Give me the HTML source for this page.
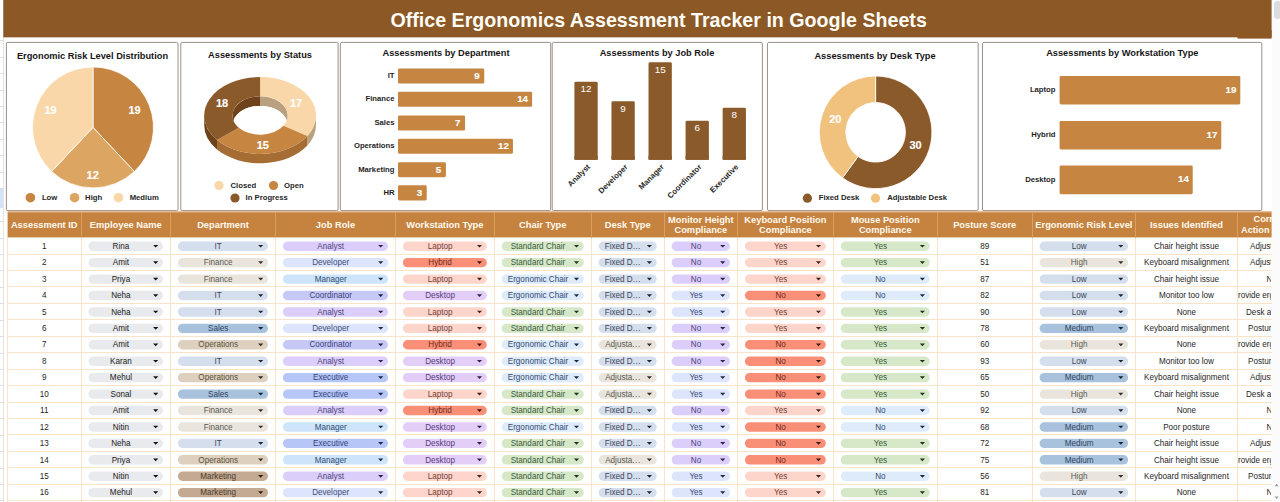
<!DOCTYPE html><html><head><meta charset="utf-8"><title>Office Ergonomics Assessment Tracker</title><style>
*{margin:0;padding:0;box-sizing:border-box}
html,body{width:1280px;height:502px;overflow:hidden;background:#fff}
body{font-family:"Liberation Sans",sans-serif;position:relative;color:#222}
.abs{position:absolute}
.hdr{position:absolute;left:3.3px;top:0;width:1268.3px;height:37.6px;background:#8b5826}
.title{position:absolute;left:390.5px;top:8.5px;font-size:19.65px;font-weight:bold;color:#fffdf6;white-space:nowrap;line-height:23px}
.box{position:absolute;top:42px;height:169px;background:#fff;border:1px solid #9b8b7c;border-radius:2px}
.ct{position:absolute;font-size:9.25px;font-weight:bold;color:#161616;white-space:nowrap;transform:translate(-50%,-50%);line-height:11px}
.lbl{position:absolute;font-size:7.7px;font-weight:bold;color:#1f1f1f;white-space:nowrap;line-height:10px}
.val{position:absolute;font-size:11px;font-weight:bold;color:#fff;-webkit-text-stroke:0.15px #fff;white-space:nowrap;line-height:12px;transform:translate(-50%,-50%)}
.bar{position:absolute;border-radius:1.5px}
.th{position:absolute;top:213px;height:24.5px;background:#c6823f;color:#fffaf0;font-size:9.3px;font-weight:bold;display:flex;align-items:center;justify-content:center;text-align:center;line-height:10.5px;white-space:nowrap;overflow:hidden}
.td{position:absolute;font-size:8.15px;color:#262626;white-space:nowrap;text-align:center;line-height:10px;overflow:hidden}
.pill{position:absolute;height:9.4px;border-radius:5px}
.pt{position:absolute;font-size:8.15px;white-space:nowrap;text-align:center;line-height:10px}
.arr{position:absolute;width:5.2px;height:2.7px;background:#222;clip-path:polygon(0 0,100% 0,50% 100%)}
.hl{position:absolute;height:1px;background:#f9e3c9}
.vl{position:absolute;width:1px;background:#f9e3c9}
</style></head><body>
<div class="abs" style="left:0;top:0;width:4px;height:502px;background:#fff;border-right:1px solid #e4e4e4"></div>
<div class="abs" style="left:0;top:189px;width:3px;height:19px;background:#d3e3fd"></div>
<div class="abs" style="left:0;top:40.34px;width:4px;height:1px;background:#dcdcdc"></div>
<div class="abs" style="left:0;top:56.77px;width:4px;height:1px;background:#dcdcdc"></div>
<div class="abs" style="left:0;top:73.20px;width:4px;height:1px;background:#dcdcdc"></div>
<div class="abs" style="left:0;top:89.63px;width:4px;height:1px;background:#dcdcdc"></div>
<div class="abs" style="left:0;top:106.06px;width:4px;height:1px;background:#dcdcdc"></div>
<div class="abs" style="left:0;top:122.49px;width:4px;height:1px;background:#dcdcdc"></div>
<div class="abs" style="left:0;top:138.92px;width:4px;height:1px;background:#dcdcdc"></div>
<div class="abs" style="left:0;top:155.35px;width:4px;height:1px;background:#dcdcdc"></div>
<div class="abs" style="left:0;top:171.78px;width:4px;height:1px;background:#dcdcdc"></div>
<div class="abs" style="left:0;top:188.21px;width:4px;height:1px;background:#dcdcdc"></div>
<div class="abs" style="left:0;top:204.64px;width:4px;height:1px;background:#dcdcdc"></div>
<div class="abs" style="left:0;top:221.07px;width:4px;height:1px;background:#dcdcdc"></div>
<div class="abs" style="left:0;top:237.50px;width:4px;height:1px;background:#dcdcdc"></div>
<div class="abs" style="left:0;top:253.93px;width:4px;height:1px;background:#dcdcdc"></div>
<div class="abs" style="left:0;top:270.36px;width:4px;height:1px;background:#dcdcdc"></div>
<div class="abs" style="left:0;top:286.79px;width:4px;height:1px;background:#dcdcdc"></div>
<div class="abs" style="left:0;top:303.22px;width:4px;height:1px;background:#dcdcdc"></div>
<div class="abs" style="left:0;top:319.65px;width:4px;height:1px;background:#dcdcdc"></div>
<div class="abs" style="left:0;top:336.08px;width:4px;height:1px;background:#dcdcdc"></div>
<div class="abs" style="left:0;top:352.51px;width:4px;height:1px;background:#dcdcdc"></div>
<div class="abs" style="left:0;top:368.94px;width:4px;height:1px;background:#dcdcdc"></div>
<div class="abs" style="left:0;top:385.37px;width:4px;height:1px;background:#dcdcdc"></div>
<div class="abs" style="left:0;top:401.80px;width:4px;height:1px;background:#dcdcdc"></div>
<div class="abs" style="left:0;top:418.23px;width:4px;height:1px;background:#dcdcdc"></div>
<div class="abs" style="left:0;top:434.66px;width:4px;height:1px;background:#dcdcdc"></div>
<div class="abs" style="left:0;top:451.09px;width:4px;height:1px;background:#dcdcdc"></div>
<div class="abs" style="left:0;top:467.52px;width:4px;height:1px;background:#dcdcdc"></div>
<div class="abs" style="left:0;top:483.95px;width:4px;height:1px;background:#dcdcdc"></div>
<div class="abs" style="left:0;top:500.38px;width:4px;height:1px;background:#dcdcdc"></div>
<svg class="abs" style="left:0;top:0" width="1280" height="40" viewBox="0 0 1280 40"><rect x="3.3" y="0" width="1268.3" height="37.35" fill="#8b5826"/><rect x="1237.5" y="30" width="34.1" height="8.6" fill="#8b5826"/></svg>
<div class="title">Office Ergonomics Assessment Tracker in Google Sheets</div>
<div class="abs" style="left:1272px;top:0;width:8px;height:502px;background:#fbfbfb"></div>
<div class="abs" style="left:1273.5px;top:1px;width:7px;height:18px;border-radius:3.5px;background:#dadce0"></div>
<svg class="abs" style="left:1272px;top:480px" width="8" height="22" viewBox="0 0 8 22"><path d="M2.6,6.2L4.6,3.8L6.6,6.2Z" fill="#9a9a9a"/><path d="M2.6,16.6L4.6,19L6.6,16.6Z" fill="#9a9a9a"/></svg>
<svg class="abs" style="left:0;top:0" width="1280" height="502" viewBox="0 0 1280 502"><rect x="6.4" y="42.4" width="171.60" height="168.2" rx="1.5" fill="#fff" stroke="#8f8379" stroke-width="0.9"/><rect x="180.8" y="42.4" width="157.30" height="168.2" rx="1.5" fill="#fff" stroke="#8f8379" stroke-width="0.9"/><rect x="340.35" y="42.4" width="210.35" height="168.2" rx="1.5" fill="#fff" stroke="#8f8379" stroke-width="0.9"/><rect x="552.2" y="42.4" width="210.20" height="168.2" rx="1.5" fill="#fff" stroke="#8f8379" stroke-width="0.9"/><rect x="767.45" y="42.4" width="210.75" height="168.2" rx="1.5" fill="#fff" stroke="#8f8379" stroke-width="0.9"/><rect x="982.5" y="42.4" width="279.30" height="168.2" rx="1.5" fill="#fff" stroke="#8f8379" stroke-width="0.9"/><path d="M93.00,127.40 L93.00,66.90 A60.5,60.5 0 0 1 134.42,171.50 Z" fill="#c68642" stroke="#fff" stroke-width="0.8"/><path d="M93.00,127.40 L134.42,171.50 A60.5,60.5 0 0 1 51.58,171.50 Z" fill="#dca562" stroke="#fff" stroke-width="0.8"/><path d="M93.00,127.40 L51.58,171.50 A60.5,60.5 0 0 1 93.00,66.90 Z" fill="#fad7a8" stroke="#fff" stroke-width="0.8"/><circle cx="30.4" cy="197.7" r="4.8" fill="#c68642"/><circle cx="74.6" cy="197.7" r="4.8" fill="#dca562"/><circle cx="118.4" cy="197.7" r="4.8" fill="#fad7a8"/><path d="M316.00,115.50 A55.9,38.4 0 0 1 307.30,136.08 L307.30,145.48 A55.9,38.4 0 0 0 316.00,124.90 Z" fill="#b9a180"/><path d="M307.30,136.08 A55.9,38.4 0 0 1 217.03,139.98 L217.03,149.38 A55.9,38.4 0 0 0 307.30,145.48 Z" fill="#a56d33"/><path d="M217.03,139.98 A55.9,38.4 0 0 1 204.20,115.50 L204.20,124.90 A55.9,38.4 0 0 0 217.03,149.38 Z" fill="#6e431b"/><path d="M260.10,96.30 A27.6,19.2 0 0 1 287.70,115.50 L287.70,125.10 A27.6,19.2 0 0 0 260.10,105.90 Z" fill="#b9a180"/><path d="M232.50,115.50 A27.6,19.2 0 0 1 260.10,96.30 L260.10,105.90 A27.6,19.2 0 0 0 232.50,125.10 Z" fill="#6e431b"/><clipPath id="hole"><ellipse cx="260.1" cy="115.5" rx="27.6" ry="19.2"/></clipPath><ellipse cx="260.1" cy="125.10000000000001" rx="27.6" ry="19.2" fill="#fff" clip-path="url(#hole)"/><path d="M260.10,77.10 A55.9,38.4 0 0 1 307.30,136.08 L283.40,125.79 A27.6,19.2 0 0 0 260.10,96.30 Z" fill="#fad7a8"/><path d="M307.30,136.08 A55.9,38.4 0 0 1 217.03,139.98 L238.83,127.74 A27.6,19.2 0 0 0 283.40,125.79 Z" fill="#c68642"/><path d="M217.03,139.98 A55.9,38.4 0 0 1 260.10,77.10 L260.10,96.30 A27.6,19.2 0 0 0 238.83,127.74 Z" fill="#8b5a2b"/><circle cx="219" cy="185.5" r="4.6" fill="#fad7a8"/><circle cx="273.5" cy="185.5" r="4.6" fill="#c68642"/><circle cx="235" cy="198" r="4.6" fill="#8b5a2b"/><path d="M875.60,76.00 A56.3,56.3 0 1 1 842.51,177.85 L858.08,156.41 A29.8,29.8 0 1 0 875.60,102.50 Z" fill="#8b5a2b" stroke="#fff" stroke-width="0.8"/><path d="M842.51,177.85 A56.3,56.3 0 0 1 875.60,76.00 L875.60,102.50 A29.8,29.8 0 0 0 858.08,156.41 Z" fill="#f0c27e" stroke="#fff" stroke-width="0.8"/><circle cx="807.4" cy="198.2" r="4.6" fill="#8b5a2b"/><circle cx="875.5" cy="198.2" r="4.6" fill="#f0c27e"/><rect x="398.00" y="68.45" width="86.22" height="15.10" rx="1.4" fill="#c68642"/><rect x="398.00" y="91.75" width="134.12" height="15.10" rx="1.4" fill="#c68642"/><rect x="398.00" y="115.45" width="67.06" height="15.10" rx="1.4" fill="#c68642"/><rect x="398.00" y="138.65" width="114.96" height="15.10" rx="1.4" fill="#c68642"/><rect x="398.00" y="162.15" width="47.90" height="15.10" rx="1.4" fill="#c68642"/><rect x="398.00" y="185.35" width="28.74" height="15.10" rx="1.4" fill="#c68642"/><rect x="574.40" y="81.80" width="23.30" height="78.00" rx="1.4" fill="#8b5a2b"/><rect x="574.40" y="155.80" width="23.30" height="4.00" rx="0" fill="#8b5a2b"/><rect x="611.46" y="101.30" width="23.30" height="58.50" rx="1.4" fill="#8b5a2b"/><rect x="611.46" y="155.80" width="23.30" height="4.00" rx="0" fill="#8b5a2b"/><rect x="648.52" y="62.30" width="23.30" height="97.50" rx="1.4" fill="#8b5a2b"/><rect x="648.52" y="155.80" width="23.30" height="4.00" rx="0" fill="#8b5a2b"/><rect x="685.58" y="120.80" width="23.30" height="39.00" rx="1.4" fill="#8b5a2b"/><rect x="685.58" y="155.80" width="23.30" height="4.00" rx="0" fill="#8b5a2b"/><rect x="722.64" y="107.80" width="23.30" height="52.00" rx="1.4" fill="#8b5a2b"/><rect x="722.64" y="155.80" width="23.30" height="4.00" rx="0" fill="#8b5a2b"/><rect x="1059.60" y="75.90" width="180.69" height="28.60" rx="1.4" fill="#c68642"/><rect x="1059.60" y="120.90" width="161.67" height="28.60" rx="1.4" fill="#c68642"/><rect x="1059.60" y="165.60" width="133.14" height="28.60" rx="1.4" fill="#c68642"/></svg>
<div class="ct" style="left:92.5px;top:56px">Ergonomic Risk Level Distribution</div>
<div class="ct" style="left:260px;top:55px">Assessments by Status</div>
<div class="ct" style="left:446px;top:53.3px">Assessments by Department</div>
<div class="ct" style="left:657px;top:53px">Assessments by Job Role</div>
<div class="ct" style="left:875px;top:55.7px">Assessments by Desk Type</div>
<div class="ct" style="left:1122.3px;top:53.3px">Assessments by Workstation Type</div>
<div class="val" style="left:134.6px;top:109.6px">19</div>
<div class="val" style="left:92.7px;top:174.7px">12</div>
<div class="val" style="left:50.6px;top:109.6px">19</div>
<div class="lbl" style="left:41.9px;top:192.5px">Low</div>
<div class="lbl" style="left:85.1px;top:192.5px">High</div>
<div class="lbl" style="left:129.7px;top:192.5px">Medium</div>
<div class="val" style="left:296.1px;top:102.8px">17</div>
<div class="val" style="left:262.8px;top:145.4px">15</div>
<div class="val" style="left:222.1px;top:102.9px">18</div>
<div class="lbl" style="left:230.5px;top:180.5px">Closed</div>
<div class="lbl" style="left:284px;top:180.5px">Open</div>
<div class="lbl" style="left:245.6px;top:193px">In Progress</div>
<div class="lbl" style="right:885.5px;top:71.0px">IT</div>
<div class="val" style="font-size:9.8px;left:476.9px;top:76.0px">9</div>
<div class="lbl" style="right:885.5px;top:94.3px">Finance</div>
<div class="val" style="font-size:9.8px;left:522.6px;top:99.3px">14</div>
<div class="lbl" style="right:885.5px;top:118.0px">Sales</div>
<div class="val" style="font-size:9.8px;left:457.8px;top:123.0px">7</div>
<div class="lbl" style="right:885.5px;top:141.2px">Operations</div>
<div class="val" style="font-size:9.8px;left:503.5px;top:146.2px">12</div>
<div class="lbl" style="right:885.5px;top:164.7px">Marketing</div>
<div class="val" style="font-size:9.8px;left:438.6px;top:169.7px">5</div>
<div class="lbl" style="right:885.5px;top:187.9px">HR</div>
<div class="val" style="font-size:9.8px;left:419.4px;top:192.9px">3</div>
<div class="val" style="left:586.0px;top:89.4px;font-weight:normal;font-size:9.9px;-webkit-text-stroke:0">12</div>
<div class="lbl" style="right:690.8px;top:161.1px;transform-origin:100% 50%;transform:rotate(-45deg);font-size:7.8px">Analyst</div>
<div class="val" style="left:623.1px;top:108.9px;font-weight:normal;font-size:9.9px;-webkit-text-stroke:0">9</div>
<div class="lbl" style="right:653.7px;top:161.1px;transform-origin:100% 50%;transform:rotate(-45deg);font-size:7.8px">Developer</div>
<div class="val" style="left:660.2px;top:69.9px;font-weight:normal;font-size:9.9px;-webkit-text-stroke:0">15</div>
<div class="lbl" style="right:616.7px;top:161.1px;transform-origin:100% 50%;transform:rotate(-45deg);font-size:7.8px">Manager</div>
<div class="val" style="left:697.2px;top:128.4px;font-weight:normal;font-size:9.9px;-webkit-text-stroke:0">6</div>
<div class="lbl" style="right:579.6px;top:161.1px;transform-origin:100% 50%;transform:rotate(-45deg);font-size:7.8px">Coordinator</div>
<div class="val" style="left:734.3px;top:115.4px;font-weight:normal;font-size:9.9px;-webkit-text-stroke:0">8</div>
<div class="lbl" style="right:542.6px;top:161.1px;transform-origin:100% 50%;transform:rotate(-45deg);font-size:7.8px">Executive</div>
<div class="val" style="left:915.5px;top:144.5px">30</div>
<div class="val" style="left:835.3px;top:119.3px">20</div>
<div class="lbl" style="left:818.7px;top:193.2px">Fixed Desk</div>
<div class="lbl" style="left:887.2px;top:193.2px">Adjustable Desk</div>
<div class="lbl" style="right:224.5px;top:84.9px">Laptop</div>
<div class="val" style="font-size:9.8px;left:1231.0px;top:89.7px">19</div>
<div class="lbl" style="right:224.5px;top:129.9px">Hybrid</div>
<div class="val" style="font-size:9.8px;left:1212.0px;top:134.7px">17</div>
<div class="lbl" style="right:224.5px;top:174.6px">Desktop</div>
<div class="val" style="font-size:9.8px;left:1183.4px;top:179.4px">14</div>
<svg class="abs" style="left:0;top:0" width="1280" height="502" viewBox="0 0 1280 502"><rect x="7.6" y="211.0" width="1264.0" height="1.6" fill="#e6bf95"/><rect x="7.6" y="212.3" width="1264.0" height="25.1" fill="#c6823f"/><rect x="88.40" y="241.52" width="74.60" height="9.4" rx="4.7" fill="#e8eaed"/><path d="M153.10,244.91h5.2l-2.6,2.7z" fill="#121212"/><rect x="177.90" y="241.52" width="90.10" height="9.4" rx="4.7" fill="#d4deed"/><path d="M258.10,244.91h5.2l-2.6,2.7z" fill="#212630"/><rect x="282.90" y="241.52" width="105.10" height="9.4" rx="4.7" fill="#dbcefa"/><path d="M378.10,244.91h5.2l-2.6,2.7z" fill="#2a2544"/><rect x="402.90" y="241.52" width="83.90" height="9.4" rx="4.7" fill="#fdd5ca"/><path d="M476.90,244.91h5.2l-2.6,2.7z" fill="#3f231f"/><rect x="501.70" y="241.52" width="82.10" height="9.4" rx="4.7" fill="#d6e8c8"/><path d="M573.90,244.91h5.2l-2.6,2.7z" fill="#1f3121"/><rect x="598.70" y="241.52" width="58.00" height="9.4" rx="4.7" fill="#d4deed"/><path d="M646.80,244.91h5.2l-2.6,2.7z" fill="#212630"/><rect x="671.60" y="241.52" width="58.40" height="9.4" rx="4.7" fill="#dbcefa"/><path d="M720.10,244.91h5.2l-2.6,2.7z" fill="#2a2544"/><rect x="744.90" y="241.52" width="80.90" height="9.4" rx="4.7" fill="#fdd5ca"/><path d="M815.90,244.91h5.2l-2.6,2.7z" fill="#3f231f"/><rect x="840.70" y="241.52" width="89.00" height="9.4" rx="4.7" fill="#d6e8c8"/><path d="M919.80,244.91h5.2l-2.6,2.7z" fill="#1f3121"/><rect x="1039.60" y="241.52" width="88.50" height="9.4" rx="4.7" fill="#d4deed"/><path d="M1118.20,244.91h5.2l-2.6,2.7z" fill="#212630"/><rect x="88.40" y="257.94" width="74.60" height="9.4" rx="4.7" fill="#e8eaed"/><path d="M153.10,261.34h5.2l-2.6,2.7z" fill="#121212"/><rect x="177.90" y="257.94" width="90.10" height="9.4" rx="4.7" fill="#e9e5dc"/><path d="M258.10,261.34h5.2l-2.6,2.7z" fill="#32312e"/><rect x="282.90" y="257.94" width="105.10" height="9.4" rx="4.7" fill="#dce5fb"/><path d="M378.10,261.34h5.2l-2.6,2.7z" fill="#232944"/><rect x="402.90" y="257.94" width="83.90" height="9.4" rx="4.7" fill="#f98f76"/><path d="M476.90,261.34h5.2l-2.6,2.7z" fill="#3c1710"/><rect x="501.70" y="257.94" width="82.10" height="9.4" rx="4.7" fill="#d6e8c8"/><path d="M573.90,261.34h5.2l-2.6,2.7z" fill="#1f3121"/><rect x="598.70" y="257.94" width="58.00" height="9.4" rx="4.7" fill="#d4deed"/><path d="M646.80,261.34h5.2l-2.6,2.7z" fill="#212630"/><rect x="671.60" y="257.94" width="58.40" height="9.4" rx="4.7" fill="#dbcefa"/><path d="M720.10,261.34h5.2l-2.6,2.7z" fill="#2a2544"/><rect x="744.90" y="257.94" width="80.90" height="9.4" rx="4.7" fill="#fdd5ca"/><path d="M815.90,261.34h5.2l-2.6,2.7z" fill="#3f231f"/><rect x="840.70" y="257.94" width="89.00" height="9.4" rx="4.7" fill="#d6e8c8"/><path d="M919.80,261.34h5.2l-2.6,2.7z" fill="#1f3121"/><rect x="1039.60" y="257.94" width="88.50" height="9.4" rx="4.7" fill="#e9e5dc"/><path d="M1118.20,261.34h5.2l-2.6,2.7z" fill="#32312e"/><rect x="88.40" y="274.38" width="74.60" height="9.4" rx="4.7" fill="#e8eaed"/><path d="M153.10,277.77h5.2l-2.6,2.7z" fill="#121212"/><rect x="177.90" y="274.38" width="90.10" height="9.4" rx="4.7" fill="#e9e5dc"/><path d="M258.10,277.77h5.2l-2.6,2.7z" fill="#32312e"/><rect x="282.90" y="274.38" width="105.10" height="9.4" rx="4.7" fill="#cde4fb"/><path d="M378.10,277.77h5.2l-2.6,2.7z" fill="#19293f"/><rect x="402.90" y="274.38" width="83.90" height="9.4" rx="4.7" fill="#fdd5ca"/><path d="M476.90,277.77h5.2l-2.6,2.7z" fill="#3f231f"/><rect x="501.70" y="274.38" width="82.10" height="9.4" rx="4.7" fill="#ddebfb"/><path d="M573.90,277.77h5.2l-2.6,2.7z" fill="#1d283e"/><rect x="598.70" y="274.38" width="58.00" height="9.4" rx="4.7" fill="#d4deed"/><path d="M646.80,277.77h5.2l-2.6,2.7z" fill="#212630"/><rect x="671.60" y="274.38" width="58.40" height="9.4" rx="4.7" fill="#dbcefa"/><path d="M720.10,277.77h5.2l-2.6,2.7z" fill="#2a2544"/><rect x="744.90" y="274.38" width="80.90" height="9.4" rx="4.7" fill="#fdd5ca"/><path d="M815.90,277.77h5.2l-2.6,2.7z" fill="#3f231f"/><rect x="840.70" y="274.38" width="89.00" height="9.4" rx="4.7" fill="#ddebfb"/><path d="M919.80,277.77h5.2l-2.6,2.7z" fill="#1d283e"/><rect x="1039.60" y="274.38" width="88.50" height="9.4" rx="4.7" fill="#d4deed"/><path d="M1118.20,277.77h5.2l-2.6,2.7z" fill="#212630"/><rect x="88.40" y="290.81" width="74.60" height="9.4" rx="4.7" fill="#e8eaed"/><path d="M153.10,294.20h5.2l-2.6,2.7z" fill="#121212"/><rect x="177.90" y="290.81" width="90.10" height="9.4" rx="4.7" fill="#d4deed"/><path d="M258.10,294.20h5.2l-2.6,2.7z" fill="#212630"/><rect x="282.90" y="290.81" width="105.10" height="9.4" rx="4.7" fill="#c6c9f6"/><path d="M378.10,294.20h5.2l-2.6,2.7z" fill="#202244"/><rect x="402.90" y="290.81" width="83.90" height="9.4" rx="4.7" fill="#e3cef8"/><path d="M476.90,294.20h5.2l-2.6,2.7z" fill="#2f2345"/><rect x="501.70" y="290.81" width="82.10" height="9.4" rx="4.7" fill="#ddebfb"/><path d="M573.90,294.20h5.2l-2.6,2.7z" fill="#1d283e"/><rect x="598.70" y="290.81" width="58.00" height="9.4" rx="4.7" fill="#d4deed"/><path d="M646.80,294.20h5.2l-2.6,2.7z" fill="#212630"/><rect x="671.60" y="290.81" width="58.40" height="9.4" rx="4.7" fill="#dce5fb"/><path d="M720.10,294.20h5.2l-2.6,2.7z" fill="#232944"/><rect x="744.90" y="290.81" width="80.90" height="9.4" rx="4.7" fill="#f98f76"/><path d="M815.90,294.20h5.2l-2.6,2.7z" fill="#3c1710"/><rect x="840.70" y="290.81" width="89.00" height="9.4" rx="4.7" fill="#ddebfb"/><path d="M919.80,294.20h5.2l-2.6,2.7z" fill="#1d283e"/><rect x="1039.60" y="290.81" width="88.50" height="9.4" rx="4.7" fill="#d4deed"/><path d="M1118.20,294.20h5.2l-2.6,2.7z" fill="#212630"/><rect x="88.40" y="307.24" width="74.60" height="9.4" rx="4.7" fill="#e8eaed"/><path d="M153.10,310.63h5.2l-2.6,2.7z" fill="#121212"/><rect x="177.90" y="307.24" width="90.10" height="9.4" rx="4.7" fill="#d4deed"/><path d="M258.10,310.63h5.2l-2.6,2.7z" fill="#212630"/><rect x="282.90" y="307.24" width="105.10" height="9.4" rx="4.7" fill="#dbcefa"/><path d="M378.10,310.63h5.2l-2.6,2.7z" fill="#2a2544"/><rect x="402.90" y="307.24" width="83.90" height="9.4" rx="4.7" fill="#fdd5ca"/><path d="M476.90,310.63h5.2l-2.6,2.7z" fill="#3f231f"/><rect x="501.70" y="307.24" width="82.10" height="9.4" rx="4.7" fill="#d6e8c8"/><path d="M573.90,310.63h5.2l-2.6,2.7z" fill="#1f3121"/><rect x="598.70" y="307.24" width="58.00" height="9.4" rx="4.7" fill="#d4deed"/><path d="M646.80,310.63h5.2l-2.6,2.7z" fill="#212630"/><rect x="671.60" y="307.24" width="58.40" height="9.4" rx="4.7" fill="#dce5fb"/><path d="M720.10,310.63h5.2l-2.6,2.7z" fill="#232944"/><rect x="744.90" y="307.24" width="80.90" height="9.4" rx="4.7" fill="#fdd5ca"/><path d="M815.90,310.63h5.2l-2.6,2.7z" fill="#3f231f"/><rect x="840.70" y="307.24" width="89.00" height="9.4" rx="4.7" fill="#d6e8c8"/><path d="M919.80,310.63h5.2l-2.6,2.7z" fill="#1f3121"/><rect x="1039.60" y="307.24" width="88.50" height="9.4" rx="4.7" fill="#d4deed"/><path d="M1118.20,310.63h5.2l-2.6,2.7z" fill="#212630"/><rect x="88.40" y="323.66" width="74.60" height="9.4" rx="4.7" fill="#e8eaed"/><path d="M153.10,327.06h5.2l-2.6,2.7z" fill="#121212"/><rect x="177.90" y="323.66" width="90.10" height="9.4" rx="4.7" fill="#a8c1dc"/><path d="M258.10,327.06h5.2l-2.6,2.7z" fill="#192534"/><rect x="282.90" y="323.66" width="105.10" height="9.4" rx="4.7" fill="#dce5fb"/><path d="M378.10,327.06h5.2l-2.6,2.7z" fill="#232944"/><rect x="402.90" y="323.66" width="83.90" height="9.4" rx="4.7" fill="#fdd5ca"/><path d="M476.90,327.06h5.2l-2.6,2.7z" fill="#3f231f"/><rect x="501.70" y="323.66" width="82.10" height="9.4" rx="4.7" fill="#d6e8c8"/><path d="M573.90,327.06h5.2l-2.6,2.7z" fill="#1f3121"/><rect x="598.70" y="323.66" width="58.00" height="9.4" rx="4.7" fill="#d4deed"/><path d="M646.80,327.06h5.2l-2.6,2.7z" fill="#212630"/><rect x="671.60" y="323.66" width="58.40" height="9.4" rx="4.7" fill="#dbcefa"/><path d="M720.10,327.06h5.2l-2.6,2.7z" fill="#2a2544"/><rect x="744.90" y="323.66" width="80.90" height="9.4" rx="4.7" fill="#fdd5ca"/><path d="M815.90,327.06h5.2l-2.6,2.7z" fill="#3f231f"/><rect x="840.70" y="323.66" width="89.00" height="9.4" rx="4.7" fill="#d6e8c8"/><path d="M919.80,327.06h5.2l-2.6,2.7z" fill="#1f3121"/><rect x="1039.60" y="323.66" width="88.50" height="9.4" rx="4.7" fill="#a8c1dc"/><path d="M1118.20,327.06h5.2l-2.6,2.7z" fill="#192534"/><rect x="88.40" y="340.09" width="74.60" height="9.4" rx="4.7" fill="#e8eaed"/><path d="M153.10,343.49h5.2l-2.6,2.7z" fill="#121212"/><rect x="177.90" y="340.09" width="90.10" height="9.4" rx="4.7" fill="#ddd0be"/><path d="M258.10,343.49h5.2l-2.6,2.7z" fill="#312c23"/><rect x="282.90" y="340.09" width="105.10" height="9.4" rx="4.7" fill="#c6c9f6"/><path d="M378.10,343.49h5.2l-2.6,2.7z" fill="#202244"/><rect x="402.90" y="340.09" width="83.90" height="9.4" rx="4.7" fill="#f98f76"/><path d="M476.90,343.49h5.2l-2.6,2.7z" fill="#3c1710"/><rect x="501.70" y="340.09" width="82.10" height="9.4" rx="4.7" fill="#ddebfb"/><path d="M573.90,343.49h5.2l-2.6,2.7z" fill="#1d283e"/><rect x="598.70" y="340.09" width="58.00" height="9.4" rx="4.7" fill="#e9e5dc"/><path d="M646.80,343.49h5.2l-2.6,2.7z" fill="#32312e"/><rect x="671.60" y="340.09" width="58.40" height="9.4" rx="4.7" fill="#dbcefa"/><path d="M720.10,343.49h5.2l-2.6,2.7z" fill="#2a2544"/><rect x="744.90" y="340.09" width="80.90" height="9.4" rx="4.7" fill="#f98f76"/><path d="M815.90,343.49h5.2l-2.6,2.7z" fill="#3c1710"/><rect x="840.70" y="340.09" width="89.00" height="9.4" rx="4.7" fill="#d6e8c8"/><path d="M919.80,343.49h5.2l-2.6,2.7z" fill="#1f3121"/><rect x="1039.60" y="340.09" width="88.50" height="9.4" rx="4.7" fill="#e9e5dc"/><path d="M1118.20,343.49h5.2l-2.6,2.7z" fill="#32312e"/><rect x="88.40" y="356.52" width="74.60" height="9.4" rx="4.7" fill="#e8eaed"/><path d="M153.10,359.92h5.2l-2.6,2.7z" fill="#121212"/><rect x="177.90" y="356.52" width="90.10" height="9.4" rx="4.7" fill="#d4deed"/><path d="M258.10,359.92h5.2l-2.6,2.7z" fill="#212630"/><rect x="282.90" y="356.52" width="105.10" height="9.4" rx="4.7" fill="#dbcefa"/><path d="M378.10,359.92h5.2l-2.6,2.7z" fill="#2a2544"/><rect x="402.90" y="356.52" width="83.90" height="9.4" rx="4.7" fill="#e3cef8"/><path d="M476.90,359.92h5.2l-2.6,2.7z" fill="#2f2345"/><rect x="501.70" y="356.52" width="82.10" height="9.4" rx="4.7" fill="#ddebfb"/><path d="M573.90,359.92h5.2l-2.6,2.7z" fill="#1d283e"/><rect x="598.70" y="356.52" width="58.00" height="9.4" rx="4.7" fill="#d4deed"/><path d="M646.80,359.92h5.2l-2.6,2.7z" fill="#212630"/><rect x="671.60" y="356.52" width="58.40" height="9.4" rx="4.7" fill="#dbcefa"/><path d="M720.10,359.92h5.2l-2.6,2.7z" fill="#2a2544"/><rect x="744.90" y="356.52" width="80.90" height="9.4" rx="4.7" fill="#f98f76"/><path d="M815.90,359.92h5.2l-2.6,2.7z" fill="#3c1710"/><rect x="840.70" y="356.52" width="89.00" height="9.4" rx="4.7" fill="#d6e8c8"/><path d="M919.80,359.92h5.2l-2.6,2.7z" fill="#1f3121"/><rect x="1039.60" y="356.52" width="88.50" height="9.4" rx="4.7" fill="#d4deed"/><path d="M1118.20,359.92h5.2l-2.6,2.7z" fill="#212630"/><rect x="88.40" y="372.95" width="74.60" height="9.4" rx="4.7" fill="#e8eaed"/><path d="M153.10,376.35h5.2l-2.6,2.7z" fill="#121212"/><rect x="177.90" y="372.95" width="90.10" height="9.4" rx="4.7" fill="#ddd0be"/><path d="M258.10,376.35h5.2l-2.6,2.7z" fill="#312c23"/><rect x="282.90" y="372.95" width="105.10" height="9.4" rx="4.7" fill="#b6c6f6"/><path d="M378.10,376.35h5.2l-2.6,2.7z" fill="#1c2545"/><rect x="402.90" y="372.95" width="83.90" height="9.4" rx="4.7" fill="#e3cef8"/><path d="M476.90,376.35h5.2l-2.6,2.7z" fill="#2f2345"/><rect x="501.70" y="372.95" width="82.10" height="9.4" rx="4.7" fill="#ddebfb"/><path d="M573.90,376.35h5.2l-2.6,2.7z" fill="#1d283e"/><rect x="598.70" y="372.95" width="58.00" height="9.4" rx="4.7" fill="#e9e5dc"/><path d="M646.80,376.35h5.2l-2.6,2.7z" fill="#32312e"/><rect x="671.60" y="372.95" width="58.40" height="9.4" rx="4.7" fill="#dce5fb"/><path d="M720.10,376.35h5.2l-2.6,2.7z" fill="#232944"/><rect x="744.90" y="372.95" width="80.90" height="9.4" rx="4.7" fill="#f98f76"/><path d="M815.90,376.35h5.2l-2.6,2.7z" fill="#3c1710"/><rect x="840.70" y="372.95" width="89.00" height="9.4" rx="4.7" fill="#d6e8c8"/><path d="M919.80,376.35h5.2l-2.6,2.7z" fill="#1f3121"/><rect x="1039.60" y="372.95" width="88.50" height="9.4" rx="4.7" fill="#a8c1dc"/><path d="M1118.20,376.35h5.2l-2.6,2.7z" fill="#192534"/><rect x="88.40" y="389.38" width="74.60" height="9.4" rx="4.7" fill="#e8eaed"/><path d="M153.10,392.78h5.2l-2.6,2.7z" fill="#121212"/><rect x="177.90" y="389.38" width="90.10" height="9.4" rx="4.7" fill="#a8c1dc"/><path d="M258.10,392.78h5.2l-2.6,2.7z" fill="#192534"/><rect x="282.90" y="389.38" width="105.10" height="9.4" rx="4.7" fill="#b6c6f6"/><path d="M378.10,392.78h5.2l-2.6,2.7z" fill="#1c2545"/><rect x="402.90" y="389.38" width="83.90" height="9.4" rx="4.7" fill="#fdd5ca"/><path d="M476.90,392.78h5.2l-2.6,2.7z" fill="#3f231f"/><rect x="501.70" y="389.38" width="82.10" height="9.4" rx="4.7" fill="#d6e8c8"/><path d="M573.90,392.78h5.2l-2.6,2.7z" fill="#1f3121"/><rect x="598.70" y="389.38" width="58.00" height="9.4" rx="4.7" fill="#e9e5dc"/><path d="M646.80,392.78h5.2l-2.6,2.7z" fill="#32312e"/><rect x="671.60" y="389.38" width="58.40" height="9.4" rx="4.7" fill="#dce5fb"/><path d="M720.10,392.78h5.2l-2.6,2.7z" fill="#232944"/><rect x="744.90" y="389.38" width="80.90" height="9.4" rx="4.7" fill="#f98f76"/><path d="M815.90,392.78h5.2l-2.6,2.7z" fill="#3c1710"/><rect x="840.70" y="389.38" width="89.00" height="9.4" rx="4.7" fill="#d6e8c8"/><path d="M919.80,392.78h5.2l-2.6,2.7z" fill="#1f3121"/><rect x="1039.60" y="389.38" width="88.50" height="9.4" rx="4.7" fill="#e9e5dc"/><path d="M1118.20,392.78h5.2l-2.6,2.7z" fill="#32312e"/><rect x="88.40" y="405.81" width="74.60" height="9.4" rx="4.7" fill="#e8eaed"/><path d="M153.10,409.21h5.2l-2.6,2.7z" fill="#121212"/><rect x="177.90" y="405.81" width="90.10" height="9.4" rx="4.7" fill="#e9e5dc"/><path d="M258.10,409.21h5.2l-2.6,2.7z" fill="#32312e"/><rect x="282.90" y="405.81" width="105.10" height="9.4" rx="4.7" fill="#dbcefa"/><path d="M378.10,409.21h5.2l-2.6,2.7z" fill="#2a2544"/><rect x="402.90" y="405.81" width="83.90" height="9.4" rx="4.7" fill="#f98f76"/><path d="M476.90,409.21h5.2l-2.6,2.7z" fill="#3c1710"/><rect x="501.70" y="405.81" width="82.10" height="9.4" rx="4.7" fill="#d6e8c8"/><path d="M573.90,409.21h5.2l-2.6,2.7z" fill="#1f3121"/><rect x="598.70" y="405.81" width="58.00" height="9.4" rx="4.7" fill="#d4deed"/><path d="M646.80,409.21h5.2l-2.6,2.7z" fill="#212630"/><rect x="671.60" y="405.81" width="58.40" height="9.4" rx="4.7" fill="#dbcefa"/><path d="M720.10,409.21h5.2l-2.6,2.7z" fill="#2a2544"/><rect x="744.90" y="405.81" width="80.90" height="9.4" rx="4.7" fill="#fdd5ca"/><path d="M815.90,409.21h5.2l-2.6,2.7z" fill="#3f231f"/><rect x="840.70" y="405.81" width="89.00" height="9.4" rx="4.7" fill="#ddebfb"/><path d="M919.80,409.21h5.2l-2.6,2.7z" fill="#1d283e"/><rect x="1039.60" y="405.81" width="88.50" height="9.4" rx="4.7" fill="#d4deed"/><path d="M1118.20,409.21h5.2l-2.6,2.7z" fill="#212630"/><rect x="88.40" y="422.25" width="74.60" height="9.4" rx="4.7" fill="#e8eaed"/><path d="M153.10,425.64h5.2l-2.6,2.7z" fill="#121212"/><rect x="177.90" y="422.25" width="90.10" height="9.4" rx="4.7" fill="#e9e5dc"/><path d="M258.10,425.64h5.2l-2.6,2.7z" fill="#32312e"/><rect x="282.90" y="422.25" width="105.10" height="9.4" rx="4.7" fill="#cde4fb"/><path d="M378.10,425.64h5.2l-2.6,2.7z" fill="#19293f"/><rect x="402.90" y="422.25" width="83.90" height="9.4" rx="4.7" fill="#e3cef8"/><path d="M476.90,425.64h5.2l-2.6,2.7z" fill="#2f2345"/><rect x="501.70" y="422.25" width="82.10" height="9.4" rx="4.7" fill="#ddebfb"/><path d="M573.90,425.64h5.2l-2.6,2.7z" fill="#1d283e"/><rect x="598.70" y="422.25" width="58.00" height="9.4" rx="4.7" fill="#d4deed"/><path d="M646.80,425.64h5.2l-2.6,2.7z" fill="#212630"/><rect x="671.60" y="422.25" width="58.40" height="9.4" rx="4.7" fill="#dce5fb"/><path d="M720.10,425.64h5.2l-2.6,2.7z" fill="#232944"/><rect x="744.90" y="422.25" width="80.90" height="9.4" rx="4.7" fill="#f98f76"/><path d="M815.90,425.64h5.2l-2.6,2.7z" fill="#3c1710"/><rect x="840.70" y="422.25" width="89.00" height="9.4" rx="4.7" fill="#ddebfb"/><path d="M919.80,425.64h5.2l-2.6,2.7z" fill="#1d283e"/><rect x="1039.60" y="422.25" width="88.50" height="9.4" rx="4.7" fill="#a8c1dc"/><path d="M1118.20,425.64h5.2l-2.6,2.7z" fill="#192534"/><rect x="88.40" y="438.67" width="74.60" height="9.4" rx="4.7" fill="#e8eaed"/><path d="M153.10,442.07h5.2l-2.6,2.7z" fill="#121212"/><rect x="177.90" y="438.67" width="90.10" height="9.4" rx="4.7" fill="#d4deed"/><path d="M258.10,442.07h5.2l-2.6,2.7z" fill="#212630"/><rect x="282.90" y="438.67" width="105.10" height="9.4" rx="4.7" fill="#b6c6f6"/><path d="M378.10,442.07h5.2l-2.6,2.7z" fill="#1c2545"/><rect x="402.90" y="438.67" width="83.90" height="9.4" rx="4.7" fill="#e3cef8"/><path d="M476.90,442.07h5.2l-2.6,2.7z" fill="#2f2345"/><rect x="501.70" y="438.67" width="82.10" height="9.4" rx="4.7" fill="#d6e8c8"/><path d="M573.90,442.07h5.2l-2.6,2.7z" fill="#1f3121"/><rect x="598.70" y="438.67" width="58.00" height="9.4" rx="4.7" fill="#d4deed"/><path d="M646.80,442.07h5.2l-2.6,2.7z" fill="#212630"/><rect x="671.60" y="438.67" width="58.40" height="9.4" rx="4.7" fill="#dbcefa"/><path d="M720.10,442.07h5.2l-2.6,2.7z" fill="#2a2544"/><rect x="744.90" y="438.67" width="80.90" height="9.4" rx="4.7" fill="#f98f76"/><path d="M815.90,442.07h5.2l-2.6,2.7z" fill="#3c1710"/><rect x="840.70" y="438.67" width="89.00" height="9.4" rx="4.7" fill="#d6e8c8"/><path d="M919.80,442.07h5.2l-2.6,2.7z" fill="#1f3121"/><rect x="1039.60" y="438.67" width="88.50" height="9.4" rx="4.7" fill="#a8c1dc"/><path d="M1118.20,442.07h5.2l-2.6,2.7z" fill="#192534"/><rect x="88.40" y="455.11" width="74.60" height="9.4" rx="4.7" fill="#e8eaed"/><path d="M153.10,458.50h5.2l-2.6,2.7z" fill="#121212"/><rect x="177.90" y="455.11" width="90.10" height="9.4" rx="4.7" fill="#ddd0be"/><path d="M258.10,458.50h5.2l-2.6,2.7z" fill="#312c23"/><rect x="282.90" y="455.11" width="105.10" height="9.4" rx="4.7" fill="#cde4fb"/><path d="M378.10,458.50h5.2l-2.6,2.7z" fill="#19293f"/><rect x="402.90" y="455.11" width="83.90" height="9.4" rx="4.7" fill="#e3cef8"/><path d="M476.90,458.50h5.2l-2.6,2.7z" fill="#2f2345"/><rect x="501.70" y="455.11" width="82.10" height="9.4" rx="4.7" fill="#d6e8c8"/><path d="M573.90,458.50h5.2l-2.6,2.7z" fill="#1f3121"/><rect x="598.70" y="455.11" width="58.00" height="9.4" rx="4.7" fill="#e9e5dc"/><path d="M646.80,458.50h5.2l-2.6,2.7z" fill="#32312e"/><rect x="671.60" y="455.11" width="58.40" height="9.4" rx="4.7" fill="#dbcefa"/><path d="M720.10,458.50h5.2l-2.6,2.7z" fill="#2a2544"/><rect x="744.90" y="455.11" width="80.90" height="9.4" rx="4.7" fill="#f98f76"/><path d="M815.90,458.50h5.2l-2.6,2.7z" fill="#3c1710"/><rect x="840.70" y="455.11" width="89.00" height="9.4" rx="4.7" fill="#d6e8c8"/><path d="M919.80,458.50h5.2l-2.6,2.7z" fill="#1f3121"/><rect x="1039.60" y="455.11" width="88.50" height="9.4" rx="4.7" fill="#a8c1dc"/><path d="M1118.20,458.50h5.2l-2.6,2.7z" fill="#192534"/><rect x="88.40" y="471.53" width="74.60" height="9.4" rx="4.7" fill="#e8eaed"/><path d="M153.10,474.93h5.2l-2.6,2.7z" fill="#121212"/><rect x="177.90" y="471.53" width="90.10" height="9.4" rx="4.7" fill="#c4aa93"/><path d="M258.10,474.93h5.2l-2.6,2.7z" fill="#281f17"/><rect x="282.90" y="471.53" width="105.10" height="9.4" rx="4.7" fill="#dbcefa"/><path d="M378.10,474.93h5.2l-2.6,2.7z" fill="#2a2544"/><rect x="402.90" y="471.53" width="83.90" height="9.4" rx="4.7" fill="#fdd5ca"/><path d="M476.90,474.93h5.2l-2.6,2.7z" fill="#3f231f"/><rect x="501.70" y="471.53" width="82.10" height="9.4" rx="4.7" fill="#d6e8c8"/><path d="M573.90,474.93h5.2l-2.6,2.7z" fill="#1f3121"/><rect x="598.70" y="471.53" width="58.00" height="9.4" rx="4.7" fill="#d4deed"/><path d="M646.80,474.93h5.2l-2.6,2.7z" fill="#212630"/><rect x="671.60" y="471.53" width="58.40" height="9.4" rx="4.7" fill="#dce5fb"/><path d="M720.10,474.93h5.2l-2.6,2.7z" fill="#232944"/><rect x="744.90" y="471.53" width="80.90" height="9.4" rx="4.7" fill="#fdd5ca"/><path d="M815.90,474.93h5.2l-2.6,2.7z" fill="#3f231f"/><rect x="840.70" y="471.53" width="89.00" height="9.4" rx="4.7" fill="#ddebfb"/><path d="M919.80,474.93h5.2l-2.6,2.7z" fill="#1d283e"/><rect x="1039.60" y="471.53" width="88.50" height="9.4" rx="4.7" fill="#e9e5dc"/><path d="M1118.20,474.93h5.2l-2.6,2.7z" fill="#32312e"/><rect x="88.40" y="487.96" width="74.60" height="9.4" rx="4.7" fill="#e8eaed"/><path d="M153.10,491.36h5.2l-2.6,2.7z" fill="#121212"/><rect x="177.90" y="487.96" width="90.10" height="9.4" rx="4.7" fill="#c4aa93"/><path d="M258.10,491.36h5.2l-2.6,2.7z" fill="#281f17"/><rect x="282.90" y="487.96" width="105.10" height="9.4" rx="4.7" fill="#dce5fb"/><path d="M378.10,491.36h5.2l-2.6,2.7z" fill="#232944"/><rect x="402.90" y="487.96" width="83.90" height="9.4" rx="4.7" fill="#fdd5ca"/><path d="M476.90,491.36h5.2l-2.6,2.7z" fill="#3f231f"/><rect x="501.70" y="487.96" width="82.10" height="9.4" rx="4.7" fill="#d6e8c8"/><path d="M573.90,491.36h5.2l-2.6,2.7z" fill="#1f3121"/><rect x="598.70" y="487.96" width="58.00" height="9.4" rx="4.7" fill="#d4deed"/><path d="M646.80,491.36h5.2l-2.6,2.7z" fill="#212630"/><rect x="671.60" y="487.96" width="58.40" height="9.4" rx="4.7" fill="#dce5fb"/><path d="M720.10,491.36h5.2l-2.6,2.7z" fill="#232944"/><rect x="744.90" y="487.96" width="80.90" height="9.4" rx="4.7" fill="#fdd5ca"/><path d="M815.90,491.36h5.2l-2.6,2.7z" fill="#3f231f"/><rect x="840.70" y="487.96" width="89.00" height="9.4" rx="4.7" fill="#d6e8c8"/><path d="M919.80,491.36h5.2l-2.6,2.7z" fill="#1f3121"/><rect x="1039.60" y="487.96" width="88.50" height="9.4" rx="4.7" fill="#d4deed"/><path d="M1118.20,491.36h5.2l-2.6,2.7z" fill="#212630"/></svg>
<div class="th" style="left:7.5px;width:73.5px;background:transparent">Assessment ID</div>
<div class="th" style="left:81.0px;width:89.5px;background:transparent">Employee Name</div>
<div class="abs" style="left:80.5px;top:213px;width:1px;height:24.5px;background:#dd9f5e"></div>
<div class="th" style="left:170.5px;width:105.0px;background:transparent">Department</div>
<div class="abs" style="left:170.0px;top:213px;width:1px;height:24.5px;background:#dd9f5e"></div>
<div class="th" style="left:275.5px;width:120.0px;background:transparent">Job Role</div>
<div class="abs" style="left:275.0px;top:213px;width:1px;height:24.5px;background:#dd9f5e"></div>
<div class="th" style="left:395.5px;width:98.80000000000001px;background:transparent">Workstation Type</div>
<div class="abs" style="left:395.0px;top:213px;width:1px;height:24.5px;background:#dd9f5e"></div>
<div class="th" style="left:494.3px;width:96.99999999999994px;background:transparent">Chair Type</div>
<div class="abs" style="left:493.8px;top:213px;width:1px;height:24.5px;background:#dd9f5e"></div>
<div class="th" style="left:591.3px;width:72.90000000000009px;background:transparent">Desk Type</div>
<div class="abs" style="left:590.8px;top:213px;width:1px;height:24.5px;background:#dd9f5e"></div>
<div class="th" style="left:664.2px;width:73.29999999999995px;background:transparent">Monitor Height<br>Compliance</div>
<div class="abs" style="left:663.7px;top:213px;width:1px;height:24.5px;background:#dd9f5e"></div>
<div class="th" style="left:737.5px;width:95.79999999999995px;background:transparent">Keyboard Position<br>Compliance</div>
<div class="abs" style="left:737.0px;top:213px;width:1px;height:24.5px;background:#dd9f5e"></div>
<div class="th" style="left:833.3px;width:103.90000000000009px;background:transparent">Mouse Position<br>Compliance</div>
<div class="abs" style="left:832.8px;top:213px;width:1px;height:24.5px;background:#dd9f5e"></div>
<div class="th" style="left:937.2px;width:95.0px;background:transparent">Posture Score</div>
<div class="abs" style="left:936.7px;top:213px;width:1px;height:24.5px;background:#dd9f5e"></div>
<div class="th" style="left:1032.2px;width:103.39999999999986px;background:transparent">Ergonomic Risk Level</div>
<div class="abs" style="left:1031.7px;top:213px;width:1px;height:24.5px;background:#dd9f5e"></div>
<div class="th" style="left:1135.6px;width:101.70000000000005px;background:transparent">Issues Identified</div>
<div class="abs" style="left:1135.1px;top:213px;width:1px;height:24.5px;background:#dd9f5e"></div>
<div class="th" style="left:1237.3px;width:34.700000000000045px;background:transparent"></div>
<div class="abs" style="left:1236.8px;top:213px;width:1px;height:24.5px;background:#dd9f5e"></div>
<div class="abs" style="left:1238px;top:213px;width:34px;height:24.5px;overflow:hidden;color:#fffaf0;font-size:9.2px;font-weight:bold;line-height:10.5px;white-space:nowrap"><div class="abs" style="left:15.5px;top:1px">Corrective</div><div class="abs" style="left:3px;top:11.5px">Action Taken</div></div>
<div class="hl" style="left:7.5px;top:253.63px;width:1264.5px"></div>
<div class="hl" style="left:7.5px;top:270.06px;width:1264.5px"></div>
<div class="hl" style="left:7.5px;top:286.49px;width:1264.5px"></div>
<div class="hl" style="left:7.5px;top:302.92px;width:1264.5px"></div>
<div class="hl" style="left:7.5px;top:319.35px;width:1264.5px"></div>
<div class="hl" style="left:7.5px;top:335.78px;width:1264.5px"></div>
<div class="hl" style="left:7.5px;top:352.21px;width:1264.5px"></div>
<div class="hl" style="left:7.5px;top:368.64px;width:1264.5px"></div>
<div class="hl" style="left:7.5px;top:385.07px;width:1264.5px"></div>
<div class="hl" style="left:7.5px;top:401.50px;width:1264.5px"></div>
<div class="hl" style="left:7.5px;top:417.93px;width:1264.5px"></div>
<div class="hl" style="left:7.5px;top:434.36px;width:1264.5px"></div>
<div class="hl" style="left:7.5px;top:450.79px;width:1264.5px"></div>
<div class="hl" style="left:7.5px;top:467.22px;width:1264.5px"></div>
<div class="hl" style="left:7.5px;top:483.65px;width:1264.5px"></div>
<div class="hl" style="left:7.5px;top:500.08px;width:1264.5px"></div>
<div class="hl" style="left:7.5px;top:516.51px;width:1264.5px"></div>
<div class="vl" style="left:7.0px;top:237.5px;height:265px"></div>
<div class="vl" style="left:80.5px;top:237.5px;height:265px"></div>
<div class="vl" style="left:170.0px;top:237.5px;height:265px"></div>
<div class="vl" style="left:275.0px;top:237.5px;height:265px"></div>
<div class="vl" style="left:395.0px;top:237.5px;height:265px"></div>
<div class="vl" style="left:493.8px;top:237.5px;height:265px"></div>
<div class="vl" style="left:590.8px;top:237.5px;height:265px"></div>
<div class="vl" style="left:663.7px;top:237.5px;height:265px"></div>
<div class="vl" style="left:737.0px;top:237.5px;height:265px"></div>
<div class="vl" style="left:832.8px;top:237.5px;height:265px"></div>
<div class="vl" style="left:936.7px;top:237.5px;height:265px"></div>
<div class="vl" style="left:1031.7px;top:237.5px;height:265px"></div>
<div class="vl" style="left:1135.1px;top:237.5px;height:265px"></div>
<div class="vl" style="left:1236.8px;top:237.5px;height:265px"></div>
<div class="td" style="left:7.5px;width:73.5px;top:241.91px">1</div>
<div class="pt" style="left:90.4px;width:61.1px;top:241.91px;color:#222">Rina</div>
<div class="pt" style="left:179.9px;width:76.6px;top:241.91px;color:#3c4658">IT</div>
<div class="pt" style="left:284.9px;width:91.6px;top:241.91px;color:#4d447c">Analyst</div>
<div class="pt" style="left:404.9px;width:70.4px;top:241.91px;color:#74403a">Laptop</div>
<div class="pt" style="left:503.7px;width:68.6px;top:241.91px;color:#3a5a3c">Standard Chair</div>
<div class="pt" style="left:600.7px;width:44.5px;top:241.91px;color:#3c4658">Fixed D<span style="letter-spacing:0.55px">...</span></div>
<div class="pt" style="left:673.6px;width:44.9px;top:241.91px;color:#4d447c">No</div>
<div class="pt" style="left:746.9px;width:67.4px;top:241.91px;color:#74403a">Yes</div>
<div class="pt" style="left:842.7px;width:75.5px;top:241.91px;color:#3a5a3c">Yes</div>
<div class="td" style="left:937.2px;width:95.0px;top:241.91px">89</div>
<div class="pt" style="left:1041.6px;width:75.0px;top:241.91px;color:#3c4658">Low</div>
<div class="td" style="left:1135.6px;width:101.70000000000005px;top:241.91px">Chair height issue</div>
<div class="td" style="left:1238px;width:33px;top:241.91px;text-align:left"><span style="position:relative;left:12.0px">Adjust chair</span></div>
<div class="td" style="left:7.5px;width:73.5px;top:258.34px">2</div>
<div class="pt" style="left:90.4px;width:61.1px;top:258.34px;color:#222">Amit</div>
<div class="pt" style="left:179.9px;width:76.6px;top:258.34px;color:#5c5a55">Finance</div>
<div class="pt" style="left:284.9px;width:91.6px;top:258.34px;color:#414c7c">Developer</div>
<div class="pt" style="left:404.9px;width:70.4px;top:258.34px;color:#6e2a1e">Hybrid</div>
<div class="pt" style="left:503.7px;width:68.6px;top:258.34px;color:#3a5a3c">Standard Chair</div>
<div class="pt" style="left:600.7px;width:44.5px;top:258.34px;color:#3c4658">Fixed D<span style="letter-spacing:0.55px">...</span></div>
<div class="pt" style="left:673.6px;width:44.9px;top:258.34px;color:#4d447c">No</div>
<div class="pt" style="left:746.9px;width:67.4px;top:258.34px;color:#74403a">Yes</div>
<div class="pt" style="left:842.7px;width:75.5px;top:258.34px;color:#3a5a3c">Yes</div>
<div class="td" style="left:937.2px;width:95.0px;top:258.34px">51</div>
<div class="pt" style="left:1041.6px;width:75.0px;top:258.34px;color:#5c5a55">High</div>
<div class="td" style="left:1135.6px;width:101.70000000000005px;top:258.34px">Keyboard misalignment</div>
<div class="td" style="left:1238px;width:33px;top:258.34px;text-align:left"><span style="position:relative;left:12.0px">Adjust chair</span></div>
<div class="td" style="left:7.5px;width:73.5px;top:274.77px">3</div>
<div class="pt" style="left:90.4px;width:61.1px;top:274.77px;color:#222">Priya</div>
<div class="pt" style="left:179.9px;width:76.6px;top:274.77px;color:#5c5a55">Finance</div>
<div class="pt" style="left:284.9px;width:91.6px;top:274.77px;color:#2e4c74">Manager</div>
<div class="pt" style="left:404.9px;width:70.4px;top:274.77px;color:#74403a">Laptop</div>
<div class="pt" style="left:503.7px;width:68.6px;top:274.77px;color:#354a72">Ergonomic Chair</div>
<div class="pt" style="left:600.7px;width:44.5px;top:274.77px;color:#3c4658">Fixed D<span style="letter-spacing:0.55px">...</span></div>
<div class="pt" style="left:673.6px;width:44.9px;top:274.77px;color:#4d447c">No</div>
<div class="pt" style="left:746.9px;width:67.4px;top:274.77px;color:#74403a">Yes</div>
<div class="pt" style="left:842.7px;width:75.5px;top:274.77px;color:#354a72">No</div>
<div class="td" style="left:937.2px;width:95.0px;top:274.77px">87</div>
<div class="pt" style="left:1041.6px;width:75.0px;top:274.77px;color:#3c4658">Low</div>
<div class="td" style="left:1135.6px;width:101.70000000000005px;top:274.77px">Chair height issue</div>
<div class="td" style="left:1238px;width:33px;top:274.77px;text-align:left"><span style="position:relative;left:28.5px">None</span></div>
<div class="td" style="left:7.5px;width:73.5px;top:291.20px">4</div>
<div class="pt" style="left:90.4px;width:61.1px;top:291.20px;color:#222">Neha</div>
<div class="pt" style="left:179.9px;width:76.6px;top:291.20px;color:#3c4658">IT</div>
<div class="pt" style="left:284.9px;width:91.6px;top:291.20px;color:#3b3f7c">Coordinator</div>
<div class="pt" style="left:404.9px;width:70.4px;top:291.20px;color:#56407e">Desktop</div>
<div class="pt" style="left:503.7px;width:68.6px;top:291.20px;color:#354a72">Ergonomic Chair</div>
<div class="pt" style="left:600.7px;width:44.5px;top:291.20px;color:#3c4658">Fixed D<span style="letter-spacing:0.55px">...</span></div>
<div class="pt" style="left:673.6px;width:44.9px;top:291.20px;color:#414c7c">Yes</div>
<div class="pt" style="left:746.9px;width:67.4px;top:291.20px;color:#6e2a1e">No</div>
<div class="pt" style="left:842.7px;width:75.5px;top:291.20px;color:#354a72">No</div>
<div class="td" style="left:937.2px;width:95.0px;top:291.20px">82</div>
<div class="pt" style="left:1041.6px;width:75.0px;top:291.20px;color:#3c4658">Low</div>
<div class="td" style="left:1135.6px;width:101.70000000000005px;top:291.20px">Monitor too low</div>
<div class="td" style="left:1238px;width:33px;top:291.20px;text-align:left"><span style="position:relative;left:-5.5px">Provide ergonomic</span></div>
<div class="td" style="left:7.5px;width:73.5px;top:307.63px">5</div>
<div class="pt" style="left:90.4px;width:61.1px;top:307.63px;color:#222">Neha</div>
<div class="pt" style="left:179.9px;width:76.6px;top:307.63px;color:#3c4658">IT</div>
<div class="pt" style="left:284.9px;width:91.6px;top:307.63px;color:#4d447c">Analyst</div>
<div class="pt" style="left:404.9px;width:70.4px;top:307.63px;color:#74403a">Laptop</div>
<div class="pt" style="left:503.7px;width:68.6px;top:307.63px;color:#3a5a3c">Standard Chair</div>
<div class="pt" style="left:600.7px;width:44.5px;top:307.63px;color:#3c4658">Fixed D<span style="letter-spacing:0.55px">...</span></div>
<div class="pt" style="left:673.6px;width:44.9px;top:307.63px;color:#414c7c">Yes</div>
<div class="pt" style="left:746.9px;width:67.4px;top:307.63px;color:#74403a">Yes</div>
<div class="pt" style="left:842.7px;width:75.5px;top:307.63px;color:#3a5a3c">Yes</div>
<div class="td" style="left:937.2px;width:95.0px;top:307.63px">90</div>
<div class="pt" style="left:1041.6px;width:75.0px;top:307.63px;color:#3c4658">Low</div>
<div class="td" style="left:1135.6px;width:101.70000000000005px;top:307.63px">None</div>
<div class="td" style="left:1238px;width:33px;top:307.63px;text-align:left"><span style="position:relative;left:8.0px">Desk adjustment</span></div>
<div class="td" style="left:7.5px;width:73.5px;top:324.06px">6</div>
<div class="pt" style="left:90.4px;width:61.1px;top:324.06px;color:#222">Amit</div>
<div class="pt" style="left:179.9px;width:76.6px;top:324.06px;color:#2f4560">Sales</div>
<div class="pt" style="left:284.9px;width:91.6px;top:324.06px;color:#414c7c">Developer</div>
<div class="pt" style="left:404.9px;width:70.4px;top:324.06px;color:#74403a">Laptop</div>
<div class="pt" style="left:503.7px;width:68.6px;top:324.06px;color:#3a5a3c">Standard Chair</div>
<div class="pt" style="left:600.7px;width:44.5px;top:324.06px;color:#3c4658">Fixed D<span style="letter-spacing:0.55px">...</span></div>
<div class="pt" style="left:673.6px;width:44.9px;top:324.06px;color:#4d447c">No</div>
<div class="pt" style="left:746.9px;width:67.4px;top:324.06px;color:#74403a">Yes</div>
<div class="pt" style="left:842.7px;width:75.5px;top:324.06px;color:#3a5a3c">Yes</div>
<div class="td" style="left:937.2px;width:95.0px;top:324.06px">78</div>
<div class="pt" style="left:1041.6px;width:75.0px;top:324.06px;color:#2f4560">Medium</div>
<div class="td" style="left:1135.6px;width:101.70000000000005px;top:324.06px">Keyboard misalignment</div>
<div class="td" style="left:1238px;width:33px;top:324.06px;text-align:left"><span style="position:relative;left:10.0px">Posture training</span></div>
<div class="td" style="left:7.5px;width:73.5px;top:340.49px">7</div>
<div class="pt" style="left:90.4px;width:61.1px;top:340.49px;color:#222">Amit</div>
<div class="pt" style="left:179.9px;width:76.6px;top:340.49px;color:#5a5040">Operations</div>
<div class="pt" style="left:284.9px;width:91.6px;top:340.49px;color:#3b3f7c">Coordinator</div>
<div class="pt" style="left:404.9px;width:70.4px;top:340.49px;color:#6e2a1e">Hybrid</div>
<div class="pt" style="left:503.7px;width:68.6px;top:340.49px;color:#354a72">Ergonomic Chair</div>
<div class="pt" style="left:600.7px;width:44.5px;top:340.49px;color:#5c5a55">Adjusta<span style="letter-spacing:0.55px">...</span></div>
<div class="pt" style="left:673.6px;width:44.9px;top:340.49px;color:#4d447c">No</div>
<div class="pt" style="left:746.9px;width:67.4px;top:340.49px;color:#6e2a1e">No</div>
<div class="pt" style="left:842.7px;width:75.5px;top:340.49px;color:#3a5a3c">Yes</div>
<div class="td" style="left:937.2px;width:95.0px;top:340.49px">60</div>
<div class="pt" style="left:1041.6px;width:75.0px;top:340.49px;color:#5c5a55">High</div>
<div class="td" style="left:1135.6px;width:101.70000000000005px;top:340.49px">None</div>
<div class="td" style="left:1238px;width:33px;top:340.49px;text-align:left"><span style="position:relative;left:-5.5px">Provide ergonomic</span></div>
<div class="td" style="left:7.5px;width:73.5px;top:356.92px">8</div>
<div class="pt" style="left:90.4px;width:61.1px;top:356.92px;color:#222">Karan</div>
<div class="pt" style="left:179.9px;width:76.6px;top:356.92px;color:#3c4658">IT</div>
<div class="pt" style="left:284.9px;width:91.6px;top:356.92px;color:#4d447c">Analyst</div>
<div class="pt" style="left:404.9px;width:70.4px;top:356.92px;color:#56407e">Desktop</div>
<div class="pt" style="left:503.7px;width:68.6px;top:356.92px;color:#354a72">Ergonomic Chair</div>
<div class="pt" style="left:600.7px;width:44.5px;top:356.92px;color:#3c4658">Fixed D<span style="letter-spacing:0.55px">...</span></div>
<div class="pt" style="left:673.6px;width:44.9px;top:356.92px;color:#4d447c">No</div>
<div class="pt" style="left:746.9px;width:67.4px;top:356.92px;color:#6e2a1e">No</div>
<div class="pt" style="left:842.7px;width:75.5px;top:356.92px;color:#3a5a3c">Yes</div>
<div class="td" style="left:937.2px;width:95.0px;top:356.92px">93</div>
<div class="pt" style="left:1041.6px;width:75.0px;top:356.92px;color:#3c4658">Low</div>
<div class="td" style="left:1135.6px;width:101.70000000000005px;top:356.92px">Monitor too low</div>
<div class="td" style="left:1238px;width:33px;top:356.92px;text-align:left"><span style="position:relative;left:10.0px">Posture training</span></div>
<div class="td" style="left:7.5px;width:73.5px;top:373.35px">9</div>
<div class="pt" style="left:90.4px;width:61.1px;top:373.35px;color:#222">Mehul</div>
<div class="pt" style="left:179.9px;width:76.6px;top:373.35px;color:#5a5040">Operations</div>
<div class="pt" style="left:284.9px;width:91.6px;top:373.35px;color:#33447e">Executive</div>
<div class="pt" style="left:404.9px;width:70.4px;top:373.35px;color:#56407e">Desktop</div>
<div class="pt" style="left:503.7px;width:68.6px;top:373.35px;color:#354a72">Ergonomic Chair</div>
<div class="pt" style="left:600.7px;width:44.5px;top:373.35px;color:#5c5a55">Adjusta<span style="letter-spacing:0.55px">...</span></div>
<div class="pt" style="left:673.6px;width:44.9px;top:373.35px;color:#414c7c">Yes</div>
<div class="pt" style="left:746.9px;width:67.4px;top:373.35px;color:#6e2a1e">No</div>
<div class="pt" style="left:842.7px;width:75.5px;top:373.35px;color:#3a5a3c">Yes</div>
<div class="td" style="left:937.2px;width:95.0px;top:373.35px">65</div>
<div class="pt" style="left:1041.6px;width:75.0px;top:373.35px;color:#2f4560">Medium</div>
<div class="td" style="left:1135.6px;width:101.70000000000005px;top:373.35px">Keyboard misalignment</div>
<div class="td" style="left:1238px;width:33px;top:373.35px;text-align:left"><span style="position:relative;left:12.0px">Adjust chair</span></div>
<div class="td" style="left:7.5px;width:73.5px;top:389.78px">10</div>
<div class="pt" style="left:90.4px;width:61.1px;top:389.78px;color:#222">Sonal</div>
<div class="pt" style="left:179.9px;width:76.6px;top:389.78px;color:#2f4560">Sales</div>
<div class="pt" style="left:284.9px;width:91.6px;top:389.78px;color:#33447e">Executive</div>
<div class="pt" style="left:404.9px;width:70.4px;top:389.78px;color:#74403a">Laptop</div>
<div class="pt" style="left:503.7px;width:68.6px;top:389.78px;color:#3a5a3c">Standard Chair</div>
<div class="pt" style="left:600.7px;width:44.5px;top:389.78px;color:#5c5a55">Adjusta<span style="letter-spacing:0.55px">...</span></div>
<div class="pt" style="left:673.6px;width:44.9px;top:389.78px;color:#414c7c">Yes</div>
<div class="pt" style="left:746.9px;width:67.4px;top:389.78px;color:#6e2a1e">No</div>
<div class="pt" style="left:842.7px;width:75.5px;top:389.78px;color:#3a5a3c">Yes</div>
<div class="td" style="left:937.2px;width:95.0px;top:389.78px">50</div>
<div class="pt" style="left:1041.6px;width:75.0px;top:389.78px;color:#5c5a55">High</div>
<div class="td" style="left:1135.6px;width:101.70000000000005px;top:389.78px">Chair height issue</div>
<div class="td" style="left:1238px;width:33px;top:389.78px;text-align:left"><span style="position:relative;left:8.0px">Desk adjustment</span></div>
<div class="td" style="left:7.5px;width:73.5px;top:406.21px">11</div>
<div class="pt" style="left:90.4px;width:61.1px;top:406.21px;color:#222">Amit</div>
<div class="pt" style="left:179.9px;width:76.6px;top:406.21px;color:#5c5a55">Finance</div>
<div class="pt" style="left:284.9px;width:91.6px;top:406.21px;color:#4d447c">Analyst</div>
<div class="pt" style="left:404.9px;width:70.4px;top:406.21px;color:#6e2a1e">Hybrid</div>
<div class="pt" style="left:503.7px;width:68.6px;top:406.21px;color:#3a5a3c">Standard Chair</div>
<div class="pt" style="left:600.7px;width:44.5px;top:406.21px;color:#3c4658">Fixed D<span style="letter-spacing:0.55px">...</span></div>
<div class="pt" style="left:673.6px;width:44.9px;top:406.21px;color:#4d447c">No</div>
<div class="pt" style="left:746.9px;width:67.4px;top:406.21px;color:#74403a">Yes</div>
<div class="pt" style="left:842.7px;width:75.5px;top:406.21px;color:#354a72">No</div>
<div class="td" style="left:937.2px;width:95.0px;top:406.21px">92</div>
<div class="pt" style="left:1041.6px;width:75.0px;top:406.21px;color:#3c4658">Low</div>
<div class="td" style="left:1135.6px;width:101.70000000000005px;top:406.21px">None</div>
<div class="td" style="left:1238px;width:33px;top:406.21px;text-align:left"><span style="position:relative;left:28.5px">None</span></div>
<div class="td" style="left:7.5px;width:73.5px;top:422.64px">12</div>
<div class="pt" style="left:90.4px;width:61.1px;top:422.64px;color:#222">Nitin</div>
<div class="pt" style="left:179.9px;width:76.6px;top:422.64px;color:#5c5a55">Finance</div>
<div class="pt" style="left:284.9px;width:91.6px;top:422.64px;color:#2e4c74">Manager</div>
<div class="pt" style="left:404.9px;width:70.4px;top:422.64px;color:#56407e">Desktop</div>
<div class="pt" style="left:503.7px;width:68.6px;top:422.64px;color:#354a72">Ergonomic Chair</div>
<div class="pt" style="left:600.7px;width:44.5px;top:422.64px;color:#3c4658">Fixed D<span style="letter-spacing:0.55px">...</span></div>
<div class="pt" style="left:673.6px;width:44.9px;top:422.64px;color:#414c7c">Yes</div>
<div class="pt" style="left:746.9px;width:67.4px;top:422.64px;color:#6e2a1e">No</div>
<div class="pt" style="left:842.7px;width:75.5px;top:422.64px;color:#354a72">No</div>
<div class="td" style="left:937.2px;width:95.0px;top:422.64px">68</div>
<div class="pt" style="left:1041.6px;width:75.0px;top:422.64px;color:#2f4560">Medium</div>
<div class="td" style="left:1135.6px;width:101.70000000000005px;top:422.64px">Poor posture</div>
<div class="td" style="left:1238px;width:33px;top:422.64px;text-align:left"><span style="position:relative;left:28.5px">None</span></div>
<div class="td" style="left:7.5px;width:73.5px;top:439.07px">13</div>
<div class="pt" style="left:90.4px;width:61.1px;top:439.07px;color:#222">Neha</div>
<div class="pt" style="left:179.9px;width:76.6px;top:439.07px;color:#3c4658">IT</div>
<div class="pt" style="left:284.9px;width:91.6px;top:439.07px;color:#33447e">Executive</div>
<div class="pt" style="left:404.9px;width:70.4px;top:439.07px;color:#56407e">Desktop</div>
<div class="pt" style="left:503.7px;width:68.6px;top:439.07px;color:#3a5a3c">Standard Chair</div>
<div class="pt" style="left:600.7px;width:44.5px;top:439.07px;color:#3c4658">Fixed D<span style="letter-spacing:0.55px">...</span></div>
<div class="pt" style="left:673.6px;width:44.9px;top:439.07px;color:#4d447c">No</div>
<div class="pt" style="left:746.9px;width:67.4px;top:439.07px;color:#6e2a1e">No</div>
<div class="pt" style="left:842.7px;width:75.5px;top:439.07px;color:#3a5a3c">Yes</div>
<div class="td" style="left:937.2px;width:95.0px;top:439.07px">72</div>
<div class="pt" style="left:1041.6px;width:75.0px;top:439.07px;color:#2f4560">Medium</div>
<div class="td" style="left:1135.6px;width:101.70000000000005px;top:439.07px">Chair height issue</div>
<div class="td" style="left:1238px;width:33px;top:439.07px;text-align:left"><span style="position:relative;left:12.0px">Adjust chair</span></div>
<div class="td" style="left:7.5px;width:73.5px;top:455.50px">14</div>
<div class="pt" style="left:90.4px;width:61.1px;top:455.50px;color:#222">Priya</div>
<div class="pt" style="left:179.9px;width:76.6px;top:455.50px;color:#5a5040">Operations</div>
<div class="pt" style="left:284.9px;width:91.6px;top:455.50px;color:#2e4c74">Manager</div>
<div class="pt" style="left:404.9px;width:70.4px;top:455.50px;color:#56407e">Desktop</div>
<div class="pt" style="left:503.7px;width:68.6px;top:455.50px;color:#3a5a3c">Standard Chair</div>
<div class="pt" style="left:600.7px;width:44.5px;top:455.50px;color:#5c5a55">Adjusta<span style="letter-spacing:0.55px">...</span></div>
<div class="pt" style="left:673.6px;width:44.9px;top:455.50px;color:#4d447c">No</div>
<div class="pt" style="left:746.9px;width:67.4px;top:455.50px;color:#6e2a1e">No</div>
<div class="pt" style="left:842.7px;width:75.5px;top:455.50px;color:#3a5a3c">Yes</div>
<div class="td" style="left:937.2px;width:95.0px;top:455.50px">75</div>
<div class="pt" style="left:1041.6px;width:75.0px;top:455.50px;color:#2f4560">Medium</div>
<div class="td" style="left:1135.6px;width:101.70000000000005px;top:455.50px">Chair height issue</div>
<div class="td" style="left:1238px;width:33px;top:455.50px;text-align:left"><span style="position:relative;left:-5.5px">Provide ergonomic</span></div>
<div class="td" style="left:7.5px;width:73.5px;top:471.93px">15</div>
<div class="pt" style="left:90.4px;width:61.1px;top:471.93px;color:#222">Nitin</div>
<div class="pt" style="left:179.9px;width:76.6px;top:471.93px;color:#4a3a2b">Marketing</div>
<div class="pt" style="left:284.9px;width:91.6px;top:471.93px;color:#4d447c">Analyst</div>
<div class="pt" style="left:404.9px;width:70.4px;top:471.93px;color:#74403a">Laptop</div>
<div class="pt" style="left:503.7px;width:68.6px;top:471.93px;color:#3a5a3c">Standard Chair</div>
<div class="pt" style="left:600.7px;width:44.5px;top:471.93px;color:#3c4658">Fixed D<span style="letter-spacing:0.55px">...</span></div>
<div class="pt" style="left:673.6px;width:44.9px;top:471.93px;color:#414c7c">Yes</div>
<div class="pt" style="left:746.9px;width:67.4px;top:471.93px;color:#74403a">Yes</div>
<div class="pt" style="left:842.7px;width:75.5px;top:471.93px;color:#354a72">No</div>
<div class="td" style="left:937.2px;width:95.0px;top:471.93px">56</div>
<div class="pt" style="left:1041.6px;width:75.0px;top:471.93px;color:#5c5a55">High</div>
<div class="td" style="left:1135.6px;width:101.70000000000005px;top:471.93px">Keyboard misalignment</div>
<div class="td" style="left:1238px;width:33px;top:471.93px;text-align:left"><span style="position:relative;left:10.0px">Posture training</span></div>
<div class="td" style="left:7.5px;width:73.5px;top:488.36px">16</div>
<div class="pt" style="left:90.4px;width:61.1px;top:488.36px;color:#222">Mehul</div>
<div class="pt" style="left:179.9px;width:76.6px;top:488.36px;color:#4a3a2b">Marketing</div>
<div class="pt" style="left:284.9px;width:91.6px;top:488.36px;color:#414c7c">Developer</div>
<div class="pt" style="left:404.9px;width:70.4px;top:488.36px;color:#74403a">Laptop</div>
<div class="pt" style="left:503.7px;width:68.6px;top:488.36px;color:#3a5a3c">Standard Chair</div>
<div class="pt" style="left:600.7px;width:44.5px;top:488.36px;color:#3c4658">Fixed D<span style="letter-spacing:0.55px">...</span></div>
<div class="pt" style="left:673.6px;width:44.9px;top:488.36px;color:#414c7c">Yes</div>
<div class="pt" style="left:746.9px;width:67.4px;top:488.36px;color:#74403a">Yes</div>
<div class="pt" style="left:842.7px;width:75.5px;top:488.36px;color:#3a5a3c">Yes</div>
<div class="td" style="left:937.2px;width:95.0px;top:488.36px">81</div>
<div class="pt" style="left:1041.6px;width:75.0px;top:488.36px;color:#3c4658">Low</div>
<div class="td" style="left:1135.6px;width:101.70000000000005px;top:488.36px">None</div>
<div class="td" style="left:1238px;width:33px;top:488.36px;text-align:left"><span style="position:relative;left:28.5px">None</span></div>
</body></html>
